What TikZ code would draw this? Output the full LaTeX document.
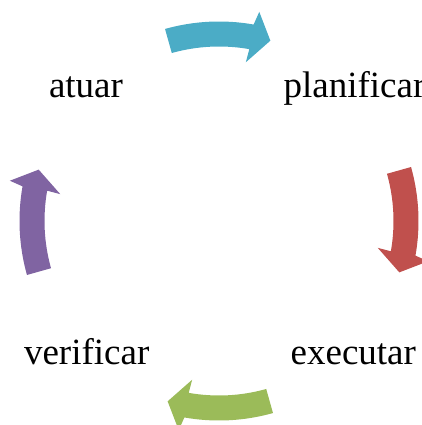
\documentclass[tikz,border=0pt]{standalone}
\usepackage{fontspec}
\setmainfont{Liberation Serif}
\usepackage{xcolor}
\usepackage{tikz}
\usetikzlibrary{calc}
\usetikzlibrary{positioning}

\definecolor{plancol}{HTML}{4BACC6}
\definecolor{docol}{HTML}{C0504D}
\definecolor{checkcol}{HTML}{9BBB59}
\definecolor{actcol}{HTML}{8064A2}

\tikzset{
  cyclabel/.style={font=\fontsize{37}{44}\selectfont, inner sep=0pt, anchor=base},
}

% curved block arrow on the ring, #1 = middle angle, #2 = colour
\newcommand{\cycarrow}[2]{%
  \fill[#2] (#1+15.7:199.5) arc[start angle=#1+15.7, end angle=#1-10, radius=199.5]
    -- (#1-10.9:213) -- (#1-15.9:187.5) -- (#1-9.6:161) -- (#1-10:174.5)
    arc[start angle=#1-10, end angle=#1+15.7, radius=174.5] -- cycle;}

\begin{document}
\begin{tikzpicture}[x=1pt,y=1pt]
\useasboundingbox (0,0) rectangle (422,425);
\clip (0,0) rectangle (422,425);

%Labels
\node[cyclabel] (atuar) at (86,327) {atuar};
\node[cyclabel] (planificar) at (354.5,327) {planificar};
\node[cyclabel] (executar) at (353.3,60) {executar};
\node[cyclabel] (verificar) at (86.7,60) {verificar};

%Arrows
\begin{scope}[shift={(219,204)}]
\foreach \ang/\col in {90/plancol, 0/docol, 270/checkcol, 180/actcol}
  \cycarrow{\ang}{\col};
\end{scope}

\end{tikzpicture}
\end{document}
